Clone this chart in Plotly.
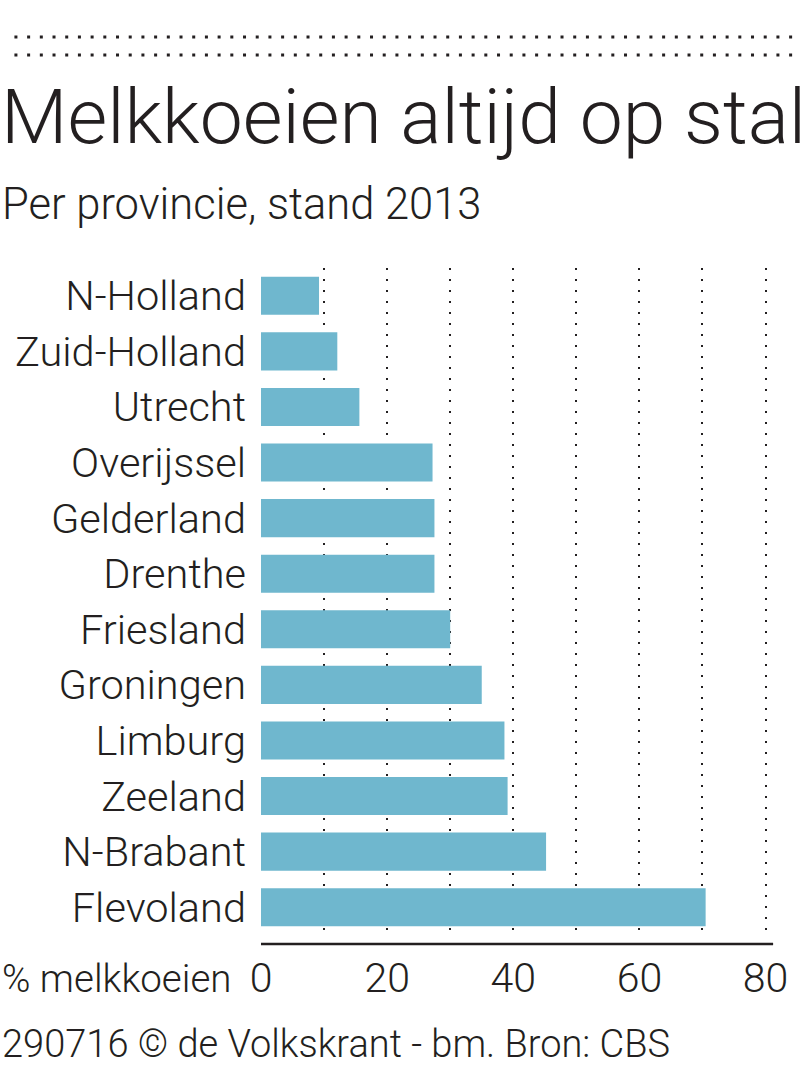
import plotly.graph_objects as go

provinces = ["N-Holland", "Zuid-Holland", "Utrecht", "Overijssel", "Gelderland", "Drenthe",
             "Friesland", "Groningen", "Limburg", "Zeeland", "N-Brabant", "Flevoland"]
pct = [9.2, 12.1, 15.6, 27.2, 27.5, 27.5, 30.0, 35.0, 38.6, 39.1, 45.2, 70.5]
grid_vals = [0, 10, 20, 30, 40, 50, 60, 70, 80]
grid_text = ["0", "", "20", "", "40", "", "60", "", "80"]
title = "Melkkoeien altijd op stal"
subtitle = "Per provincie, stand 2013"
axis_label = "% melkkoeien"
source = "290716 \u00a9 de Volkskrant - bm. Bron: CBS"

W, H = 800, 1070
L, R, T, B = 261, 21, 268, 135
pw = W - L - R
ph = H - T - B
INK = "#231f20"
BAR = "#6fb7ce"
FONT = "Roboto, 'Liberation Sans', Arial, sans-serif"


def px(x):
    return (x - L) / pw


def py(y):
    return (H - B - y) / ph


fig = go.Figure(go.Bar(
    x=pct, y=provinces, orientation="h",
    marker=dict(color=BAR, line=dict(width=0)),
    hoverinfo="x+y",
))

fig.update_layout(
    width=W, height=H,
    margin=dict(l=L, r=R, t=T, b=B, pad=0),
    paper_bgcolor="white", plot_bgcolor="white",
    showlegend=False,
    bargap=0.315,
    font=dict(family=FONT, color=INK, weight=300),
    xaxis=dict(
        range=[0, 81.5], tickmode="array", tickvals=grid_vals, ticktext=grid_text,
        showgrid=True, gridcolor=INK, gridwidth=2, griddash="2px,9px",
        zeroline=True, zerolinecolor="rgba(0,0,0,0)", zerolinewidth=1,
        showline=False, ticks="", ticklabelstandoff=15,
        tickfont=dict(size=41, color=INK, family=FONT, weight=300),
        fixedrange=True,
    ),
    yaxis=dict(
        autorange="reversed", showgrid=False, zeroline=False, showline=False,
        ticks="", ticklabelstandoff=14,
        tickfont=dict(size=41.5, color=INK, family=FONT, weight=300),
        fixedrange=True,
    ),
)

shapes = [
    dict(type="line", xref="x", yref="paper", x0=0, x1=81.2, y0=py(944), y1=py(944),
         line=dict(color=INK, width=2.5)),
]
for yy in (37, 55):
    shapes.append(dict(type="line", xref="paper", yref="paper",
                       x0=px(12.5), x1=px(805), y0=py(yy), y1=py(yy),
                       line=dict(color=INK, width=3, dash="3px,9.7px")))
fig.update_layout(shapes=shapes)

annotations = [
    dict(text=title, x=px(-3), y=py(117), xref="paper", yref="paper", xanchor="left",
         yanchor="middle", showarrow=False, font=dict(size=76.8, color=INK, family=FONT, weight=300)),
    dict(text=subtitle, x=px(-2), y=py(205), xref="paper", yref="paper", xanchor="left",
         yanchor="middle", showarrow=False, font=dict(size=43.5, color=INK, family=FONT, weight=300)),
    dict(text=axis_label, x=px(-2), y=py(978), xref="paper", yref="paper", xanchor="left",
         yanchor="middle", showarrow=False, font=dict(size=38.5, color=INK, family=FONT, weight=300)),
    dict(text=source, x=px(-2), y=py(1044), xref="paper", yref="paper", xanchor="left",
         yanchor="middle", showarrow=False, font=dict(size=38, color=INK, family=FONT, weight=300)),
]
fig.update_layout(annotations=annotations)

fig.write_html("out.html", config={"displayModeBar": False},
               post_script="document.body.style.margin='0';document.body.style.overflow='hidden';")
